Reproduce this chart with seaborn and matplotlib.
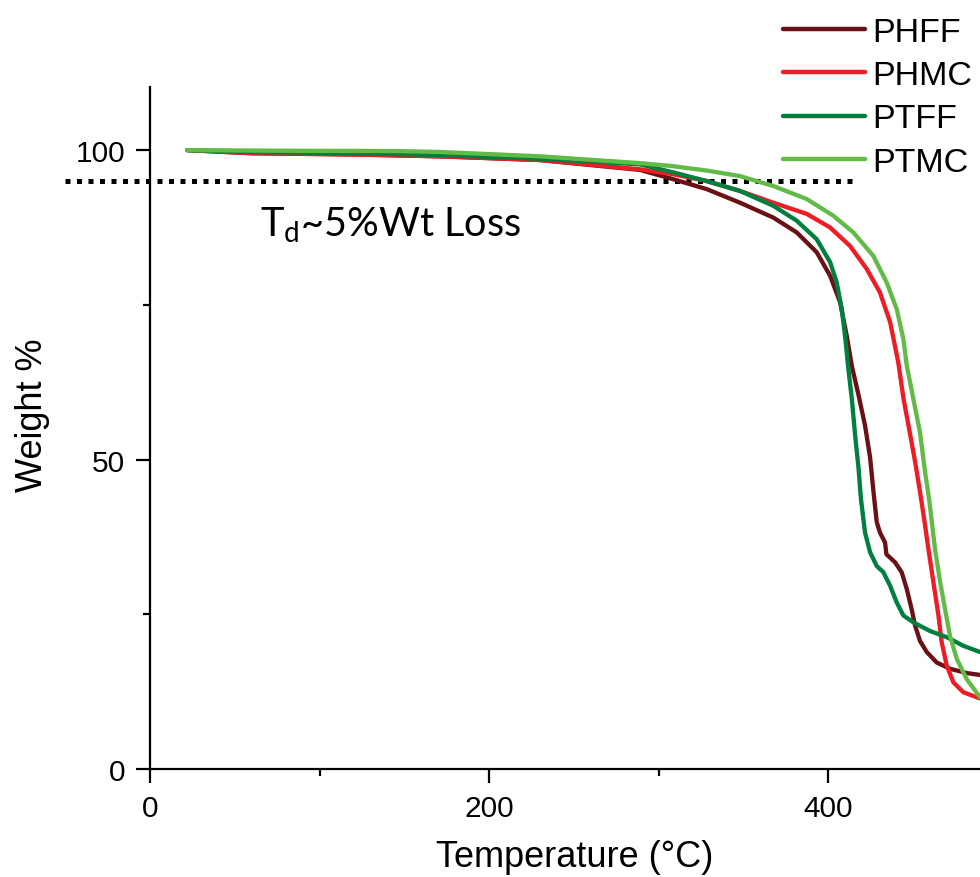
import numpy as np
import pandas as pd
import matplotlib
matplotlib.use("Agg")
import matplotlib.pyplot as plt
from matplotlib.ticker import MultipleLocator
import seaborn as sns

# ---------------- data ----------------
samples = ["PHFF", "PHMC", "PTFF", "PTMC"]
colors = ["#6B1014", "#EE1D25", "#007F3F", "#63BB47"]

phff_T = [22, 60, 120, 171, 230, 289, 308.6, 328.3, 348, 367.6, 381.4, 393.2, 401.1, 407, 410.9, 414, 417.8, 421.7, 424.7, 426.6, 428.6, 430.5, 433.5, 434.3, 439.4, 443.3, 446.3, 449.2, 451.2, 454.1, 458.1, 464, 471.8, 481.7, 489.5]
phff_W = [100, 99.5, 99.3, 99.0, 98.4, 96.8, 95.3, 93.7, 91.5, 89.1, 86.7, 83.5, 79.7, 75.4, 70.0, 65.0, 60.5, 55.5, 50.3, 45.0, 39.9, 38.2, 36.6, 34.7, 33.4, 31.8, 29.1, 25.8, 23.2, 20.7, 18.9, 17.2, 16.2, 15.5, 15.2]

phmc_T = [22, 60, 120, 171, 230, 289, 308.6, 328.3, 348, 367.6, 387.3, 401.1, 412.9, 422.7, 430.5, 436.5, 441.3, 444.3, 448, 451, 454, 456.5, 459.1, 462, 465, 466.9, 469.9, 473.8, 479.7, 489.5]
phmc_W = [100, 99.5, 99.3, 99.0, 98.4, 96.9, 96.1, 95.0, 93.4, 91.5, 89.7, 87.5, 84.5, 80.8, 77.0, 72.2, 65.7, 60.0, 54.5, 50.0, 45.0, 40.5, 35.5, 30.2, 24.8, 20.5, 16.7, 14.0, 12.4, 11.4]

ptff_T = [22, 60, 120, 171, 230, 289, 308.6, 328.3, 348, 367.6, 381.4, 393.2, 401.1, 405, 408, 409.9, 411.9, 413.9, 416, 417.8, 419.3, 421.7, 424.7, 428.6, 432.5, 436.5, 440.4, 444.3, 450.2, 460, 469.9, 479.7, 489.5]
ptff_W = [100, 99.7, 99.5, 99.2, 98.6, 97.7, 96.4, 95.0, 93.4, 91.0, 88.6, 85.6, 81.9, 78.6, 74.3, 70.0, 64.6, 59.8, 53.5, 48.8, 43.6, 38.2, 35.0, 32.8, 31.8, 29.6, 26.9, 24.8, 23.7, 22.3, 21.3, 19.9, 18.9]

ptmc_T = [22, 80, 146, 171, 230, 289, 308.6, 328.3, 348, 367.6, 387.3, 403, 414.8, 426.6, 434.5, 440.4, 444.3, 446.3, 450.2, 454.1, 457.1, 459.5, 463, 466, 468.9, 471.8, 475.8, 481.7, 489.5]
ptmc_W = [100, 99.9, 99.85, 99.7, 99.0, 97.9, 97.4, 96.7, 95.8, 94.2, 92.1, 89.4, 86.7, 82.9, 78.6, 74.3, 69.5, 65.2, 59.8, 54.4, 48.0, 43.6, 35.5, 30.2, 25.8, 21.5, 17.8, 14.5, 11.6]

td_level = 95          # 5 % weight-loss line
td_x = [-50, 415]
x_ticks = [0, 200, 400]
y_ticks = [0, 50, 100]

frames = []
for name, T, W in zip(samples, [phff_T, phmc_T, ptff_T, ptmc_T],
                      [phff_W, phmc_W, ptff_W, ptmc_W]):
    frames.append(pd.DataFrame({"Temperature": T, "Weight": W, "Sample": name}))
df = pd.concat(frames, ignore_index=True)

# ---------------- figure ----------------
sns.set_style("ticks")
plt.rcParams["font.family"] = ["Liberation Sans", "DejaVu Sans"]
plt.rcParams.update({"text.color": "black", "axes.labelcolor": "black",
                     "xtick.color": "black", "ytick.color": "black"})

fig = plt.figure(figsize=(9.8, 8.78), dpi=100)
W_px, H_px = 980, 878
ax = fig.add_axes([150 / W_px, 1 - 770 / H_px, (980 - 150) / W_px, (770 - 88) / H_px])

sns.lineplot(data=df, x="Temperature", y="Weight", hue="Sample",
             hue_order=samples, palette=dict(zip(samples, colors)),
             sort=False, estimator=None, linewidth=3.1, ax=ax,
             solid_joinstyle="round", solid_capstyle="round")

ax.plot(td_x, [td_level, td_level], color="black", linewidth=3.6,
        linestyle=(0, (1, 1.3)), dash_capstyle="butt", clip_on=False, zorder=1)

ax.text(65, 86.2, r"T$_{\mathregular{d}}$~5%Wt Loss", fontsize=28.5,
        family="Lato", va="baseline", ha="left", color="black")

ax.set_xlim(0, 489.5)
ax.set_ylim(0, 110.2)
ax.set_xticks(x_ticks)
ax.set_yticks(y_ticks)
ax.xaxis.set_minor_locator(MultipleLocator(100))
ax.yaxis.set_minor_locator(MultipleLocator(25))

for s in ["top", "right"]:
    ax.spines[s].set_visible(False)
for s in ["left", "bottom"]:
    ax.spines[s].set_linewidth(1.6)
    ax.spines[s].set_color("black")

ax.tick_params(axis="both", which="major", direction="out", length=10,
               width=1.6, labelsize=21.5, pad=8, colors="black")
ax.tick_params(axis="both", which="minor", direction="out", length=5,
               width=1.6, colors="black")

ax.set_xlabel("Temperature (°C)", fontsize=26)
ax.set_ylabel("Weight %", fontsize=26)
ax.xaxis.set_label_coords(0.512, -0.103)
ax.yaxis.set_label_coords(-0.121, 0.52)

handles, labels = ax.get_legend_handles_labels()
leg = ax.legend(handles, labels, loc="upper left", frameon=False,
                bbox_to_anchor=(783 / W_px, 1 - 18 / H_px),
                bbox_transform=fig.transFigure, fontsize=24.5, handlelength=2.4,
                handletextpad=0.22, labelspacing=0.36, borderpad=0, borderaxespad=0)
for h in leg.get_lines():
    h.set_linewidth(3.2)

fig.savefig("out.png", dpi=100)
